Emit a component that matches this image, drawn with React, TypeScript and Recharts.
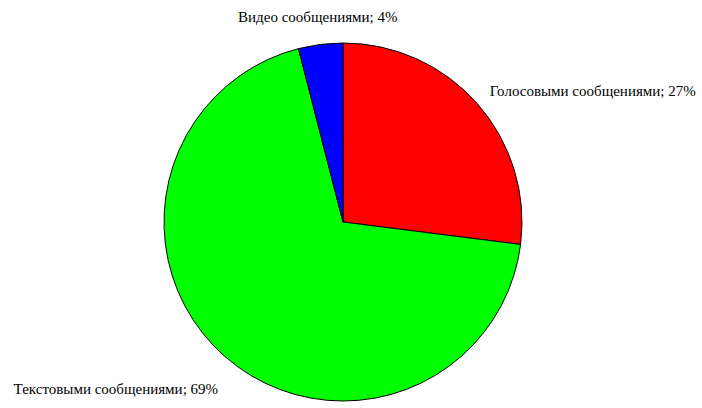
import { PieChart, Pie, Cell } from 'recharts';

const categories = ['Голосовыми сообщениями', 'Текстовыми сообщениями', 'Видео сообщениями'];
const shares = [27, 69, 4];
const colors = ['#FF0000', '#00FF00', '#0000FF'];

const data = categories.map((name, i) => ({ name, value: shares[i] }));

const RADIAN = Math.PI / 180;

// extra nudges so the labels sit where the original layout put them
const labelNudge: Record<string, { dx: number; dy: number }> = {
    'Голосовыми сообщениями': { dx: -4, dy: 2 },
    'Текстовыми сообщениями': { dx: 8, dy: 16 },
    'Видео сообщениями': { dx: 0, dy: -6 },
};

function renderLabel(props: any) {
    const { cx, cy, midAngle, outerRadius, name, value } = props;
    const r = outerRadius + 22;
    const cos = Math.cos(-midAngle * RADIAN);
    const sin = Math.sin(-midAngle * RADIAN);
    const nudge = labelNudge[name] || { dx: 0, dy: 0 };
    const x = cx + r * cos + nudge.dx;
    const y = cy + r * sin + nudge.dy;
    const anchor = Math.abs(cos) < 0.3 ? 'middle' : cos > 0 ? 'start' : 'end';
    return (
        <text
            x={x}
            y={y}
            textAnchor={anchor}
            dominantBaseline="central"
            fill="#000"
            fontFamily="'Liberation Serif', 'Times New Roman', serif"
            fontSize={15}
        >
            {`${name}; ${value}%`}
        </text>
    );
}

export default function App() {
    return (
        <div style={{ position: 'absolute', left: 0, top: 0, width: 702, height: 408, background: '#fff' }}>
            <PieChart width={702} height={408} margin={{ top: 0, right: 0, bottom: 0, left: 0 }}>
                <Pie
                    data={data}
                    dataKey="value"
                    nameKey="name"
                    cx={343}
                    cy={222}
                    outerRadius={179}
                    startAngle={90}
                    endAngle={-270}
                    stroke="#000"
                    strokeWidth={1}
                    label={renderLabel}
                    labelLine={false}
                    isAnimationActive={false}
                >
                    {data.map((entry, i) => (
                        <Cell key={entry.name} fill={colors[i]} />
                    ))}
                </Pie>
            </PieChart>
        </div>
    );
}
